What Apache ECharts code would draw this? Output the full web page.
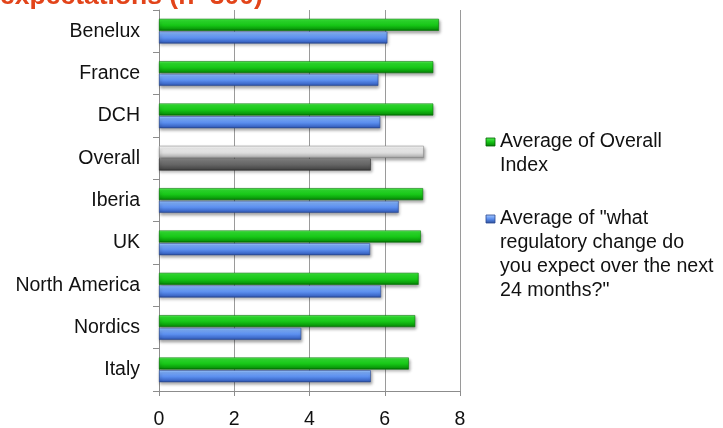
<!DOCTYPE html>
<html>
<head>
<meta charset="utf-8">
<title>Overall Index and expected regulatory change by region</title>
<script src="https://cdn.jsdelivr.net/npm/echarts@6/dist/echarts.min.js"></script>
<style>
  html, body { margin: 0; padding: 0; background: #ffffff; }
  #chart { width: 723px; height: 428px; }
</style>
</head>
<body>
<div id="chart"></div>
<script>
// Regions, listed top to bottom
const categories = ['Benelux', 'France', 'DCH', 'Overall', 'Iberia', 'UK', 'North America', 'Nordics', 'Italy'];
// Average of Overall Index
const overallIndex = [7.44, 7.29, 7.29, 7.04, 7.02, 6.96, 6.90, 6.81, 6.64];
// Average answer to "what regulatory change do you expect over the next 24 months?"
const regulatoryChange = [6.07, 5.83, 5.88, 5.63, 6.37, 5.61, 5.90, 3.78, 5.63];
// Value axis ticks
const xTicks = [0, 2, 4, 6, 8];

const seriesNames = [
  'Average of Overall\nIndex',
  'Average of "what\nregulatory change do\nyou expect over the next\n24 months?"'
];

const FONT = 'Liberation Sans, Arial, sans-serif';

function bevel(stops) {
  return new echarts.graphic.LinearGradient(0, 0, 0, 1,
    stops.map((c) => ({ offset: c[0], color: c[1] })));
}

const greenFill = bevel([[0, '#7af57a'], [0.14, '#2fe02f'], [0.55, '#16c416'], [0.85, '#0a9a0a'], [1, '#045f04']]);
const blueFill = bevel([[0, '#b3d3ff'], [0.14, '#7fb0fb'], [0.55, '#5a8ded'], [0.85, '#3c68c8'], [1, '#28478f']]);
const lightGrayFill = bevel([[0, '#ffffff'], [0.2, '#f0f0f0'], [0.6, '#dcdcdc'], [0.88, '#b8b8b8'], [1, '#8c8c8c']]);
const darkGrayFill = bevel([[0, '#a8a8a8'], [0.16, '#7c7c7c'], [0.6, '#5e5e5e'], [0.88, '#474747'], [1, '#2e2e2e']]);

const overallPos = categories.indexOf('Overall');

function buildData(values, overallFill, overallBorder) {
  return values.map((v, i) => i === overallPos
    ? { value: v, itemStyle: { color: overallFill, borderColor: overallBorder } }
    : v);
}

const barShadow = {
  shadowBlur: 3,
  shadowColor: 'rgba(0,0,0,0.35)',
  shadowOffsetX: 1,
  shadowOffsetY: 2
};

const chart = echarts.init(document.getElementById('chart'), null, { renderer: 'canvas' });

chart.setOption({
  animation: false,
  backgroundColor: '#ffffff',
  grid: { left: 159, right: 263, top: 10, bottom: 37, containLabel: false, outerBoundsMode: 'none' },
  xAxis: {
    type: 'value',
    min: xTicks[0],
    max: xTicks[xTicks.length - 1],
    interval: xTicks[1] - xTicks[0],
    axisLine: { show: true, lineStyle: { color: '#8c8c8c', width: 1 } },
    axisTick: { show: true, length: 5, lineStyle: { color: '#8c8c8c' } },
    axisLabel: { margin: 19, fontSize: 19.5, color: '#111', fontFamily: FONT },
    splitLine: { show: true, lineStyle: { color: '#9a9a9a', width: 1 } }
  },
  yAxis: {
    type: 'category',
    data: categories,
    inverse: true,
    axisLine: { show: true, lineStyle: { color: '#8c8c8c', width: 1 } },
    axisTick: { show: true, length: 6, lineStyle: { color: '#8c8c8c' } },
    axisLabel: { margin: 19, fontSize: 19.5, color: '#111', fontFamily: FONT },
    splitLine: { show: false }
  },
  series: [
    {
      name: seriesNames[0],
      type: 'bar',
      data: buildData(overallIndex, lightGrayFill, '#8a8a8a'),
      barWidth: 12,
      barGap: '6%',
      itemStyle: Object.assign({ color: greenFill, borderColor: '#067a06', borderWidth: 0.6 }, barShadow)
    },
    {
      name: seriesNames[1],
      type: 'bar',
      data: buildData(regulatoryChange, darkGrayFill, '#333333'),
      barWidth: 12,
      itemStyle: Object.assign({ color: blueFill, borderColor: '#2b4c96', borderWidth: 0.6 }, barShadow)
    }
  ],
  graphic: [
    // heading, partly above the top edge of the page
    {
      type: 'text',
      left: 0,
      top: -17,
      style: {
        text: 'expectations (n=300)',
        font: 'bold 26.5px ' + FONT,
        fill: '#e2441a'
      }
    },
    // legend entries
    {
      type: 'rect',
      shape: { x: 486, y: 138, width: 9, height: 8 },
      style: { fill: bevel([[0, '#55ee55'], [0.5, '#16c416'], [1, '#067a06']]), stroke: '#045f04', lineWidth: 0.8 }
    },
    {
      type: 'text',
      x: 500,
      y: 130,
      style: {
        text: seriesNames[0],
        font: '19.6px ' + FONT,
        fill: '#111',
        lineHeight: 23.4,
        verticalAlign: 'top'
      }
    },
    {
      type: 'rect',
      shape: { x: 486, y: 215, width: 9, height: 8 },
      style: { fill: bevel([[0, '#a9ccff'], [0.5, '#5a8ded'], [1, '#2b4c96']]), stroke: '#28478f', lineWidth: 0.8 }
    },
    {
      type: 'text',
      x: 500,
      y: 206,
      style: {
        text: seriesNames[1],
        font: '19.6px ' + FONT,
        fill: '#111',
        lineHeight: 24.3,
        verticalAlign: 'top'
      }
    }
  ]
});
</script>
</body>
</html>
